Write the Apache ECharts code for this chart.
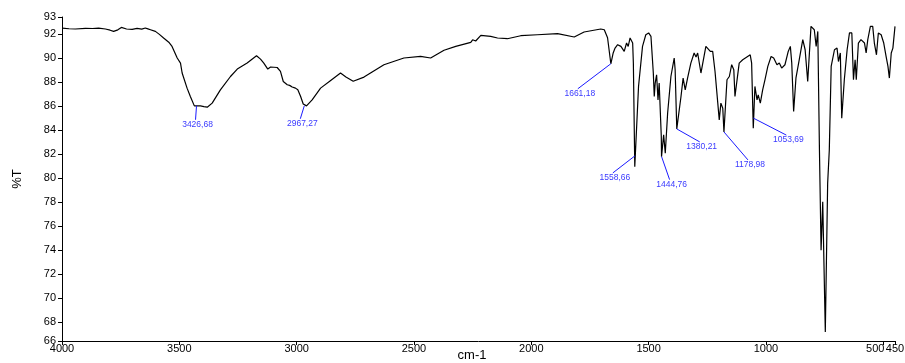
<!DOCTYPE html>
<html>
<head>
<meta charset="utf-8">
<script src="https://cdn.jsdelivr.net/npm/echarts@6/dist/echarts.min.js"></script>
<style>html,body{margin:0;padding:0;background:#fff}#c{width:905px;height:363px}</style>
</head>
<body>
<div id="c"></div>
<script>
// Wavenumbers (cm-1) and transmittance (%T)
const wavenumbers = [3999,3970,3943,3900,3870,3844,3815,3795,3780,3762,3747,3725,3701,3680,3660,3645,3634,3623,3602,3585,3567,3545,3531,3509,3495,3488,3467,3453,3436,3427,3410,3395,3381,3360,3325,3282,3253,3211,3171,3154,3140,3123,3111,3083,3069,3057,3040,3030,3019,3005,2995,2983,2972,2967,2958,2934,2898,2855,2813,2790,2759,2713,2628,2543,2472,2429,2372,2322,2258,2250,2244,2237,2230,2215,2173,2144,2102,2045,1974,1888,1817,1775,1704,1689,1675,1661,1651,1643,1632,1618,1604,1594,1587,1579,1568,1565,1559,1543,1526,1512,1500,1490,1480,1476,1472,1466,1460,1455,1446,1445,1436,1429,1419,1405,1391,1387,1380,1362,1353,1344,1334,1320,1306,1298,1291,1277,1256,1248,1237,1227,1217,1209,1199,1192,1184,1179,1166,1156,1146,1137,1132,1123,1114,1099,1078,1067,1061,1054,1047,1038,1033,1024,1014,1004,992,978,967,953,943,933,919,905,896,890,882,872,858,843,833,822,808,794,786,779,772,765,758,747,737,730,722,708,697,691,683,677,666,654,644,634,627,620,615,606,595,580,573,566,555,545,538,529,521,509,498,488,480,474,466,459,450];
const transmittance = [92.53,92.47,92.45,92.50,92.49,92.53,92.45,92.35,92.25,92.38,92.58,92.45,92.42,92.50,92.44,92.53,92.46,92.39,92.25,92.0,91.70,91.35,91.0,90.03,89.61,88.78,87.52,86.82,86.04,86.05,86.04,85.98,85.93,86.27,87.38,88.49,89.11,89.61,90.22,89.94,89.61,89.11,89.28,89.24,88.91,88.07,87.80,87.75,87.61,87.52,87.38,86.82,86.20,86.05,86.04,86.54,87.52,88.16,88.78,88.45,88.09,88.44,89.47,90.03,90.16,90.03,90.68,91.0,91.33,91.55,91.70,91.45,91.50,91.92,91.83,91.70,91.64,91.89,91.97,92.06,91.78,92.2,92.45,92.39,91.72,89.55,90.45,90.86,91.14,91.0,90.58,91.28,91.0,91.70,91.28,89.6,80.97,87.66,91.0,91.97,92.12,91.83,88.78,86.82,87.94,88.63,86.54,87.94,83.48,81.81,83.62,82.09,85.43,88.49,90.03,89.05,84.12,86.82,88.36,87.38,88.36,89.61,90.45,90.11,90.45,88.78,91.0,91.14,90.58,90.58,88.91,89.05,84.87,86.27,85.85,83.87,88.22,88.49,89.47,89.05,86.82,88.22,89.61,89.89,90.16,90.30,89.61,84.18,87.66,86.54,86.96,86.27,87.38,88.22,89.33,90.16,90.03,89.47,89.61,89.19,89.47,90.58,91.0,89.61,85.57,88.38,89.89,91.56,90.72,88.07,92.67,92.39,91.0,92.25,82.37,74.01,78.05,67.19,79.59,82.37,89.33,90.72,90.86,89.74,90.45,85.02,88.22,90.72,92.12,92.12,88.22,89.89,88.22,91.28,91.56,91.28,90.45,91.56,92.67,92.67,91.28,90.30,92.12,91.97,91.28,90.16,89.33,88.36,90.45,90.86,92.67];

// Peak annotations
const peakLabels = ['3426,68','2967,27','1661,18','1558,66','1444,76','1380,21','1178,98','1053,69'];
const peakWn = [3426.68,2967.27,1661.18,1558.66,1444.76,1380.21,1178.98,1053.69];
const peakT = [86.05,86.05,89.55,81.87,81.81,84.12,83.87,85.02];

// Axis tick labels
const xTicks = [4000,3500,3000,2500,2000,1500,1000,500,450];
const yTicks = [66.44,68,70,72,74,76,78,80,82,84,86,88,90,92,93.45];

// leader line offsets in pixels (layout)
const leaderOffsets = [[-1,14],[-4,13],[-33,25],[-22,17],[8,23],[23,13],[24,28],[33,17]];

const spectrum = wavenumbers.map((w, i) => [w, transmittance[i]]);
const peaks = peakWn.map((w, i) => [w, peakT[i], i]);

const FONT = "'Liberation Sans', Arial, sans-serif";
const chart = echarts.init(document.getElementById('c'), null, {renderer: 'canvas'});
chart.setOption({
  animation: false,
  backgroundColor: '#fff',
  grid: {left: 62, right: 10, top: 17, bottom: 22, containLabel: false, outerBoundsMode: 'none'},
  xAxis: {
    type: 'value', inverse: true, min: 450, max: 4000,
    name: 'cm-1', nameLocation: 'middle', nameGap: 8, nameMoveOverlap: false,
    nameTextStyle: {fontFamily: FONT, fontSize: 13, color: '#000', padding: [0, 13, 0, 0], verticalAlign: 'top'},
    axisLine: {lineStyle: {color: '#000', width: 1}},
    axisTick: {show: true, length: 4, lineStyle: {color: '#000'}, customValues: xTicks},
    axisLabel: {
      customValues: xTicks, margin: 2, fontFamily: FONT, fontSize: 11, color: '#000',
      formatter: v => v === 500 ? '{s|500}' : String(v),
      rich: {s: {fontFamily: FONT, fontSize: 11, color: '#000', padding: [0, 16, 0, 0]}}
    },
    splitLine: {show: false}
  },
  yAxis: {
    type: 'value', min: 66.44, max: 93.45,
    name: '%T', nameLocation: 'middle', nameGap: 38, nameRotate: 90, nameMoveOverlap: false,
    nameTextStyle: {fontFamily: FONT, fontSize: 13, color: '#000'},
    axisLine: {show: true, lineStyle: {color: '#000', width: 1}},
    axisTick: {show: true, length: 4, lineStyle: {color: '#000'}, customValues: yTicks},
    axisLabel: {customValues: yTicks, margin: 6, fontFamily: FONT, fontSize: 11, color: '#000',
      formatter: v => String(Math.round(v))},
    splitLine: {show: false}
  },
  series: [
    {
      type: 'line', data: spectrum, showSymbol: false, symbol: 'none',
      lineStyle: {color: '#000', width: 1.2}, sampling: null, z: 2
    },
    {
      type: 'custom', data: peaks, encode: {x: 0, y: 1}, clip: false, z: 3,
      renderItem: (params, api) => {
        const i = api.value(2);
        const p = api.coord([api.value(0), api.value(1)]);
        const o = leaderOffsets[i];
        const e = [p[0] + o[0], p[1] + o[1]];
        return {
          type: 'group',
          children: [
            {type: 'line', shape: {x1: p[0], y1: p[1], x2: e[0], y2: e[1]},
              style: {stroke: '#1a1aff', lineWidth: 1}},
            {type: 'text', x: e[0] + 2, y: e[1] + 5,
              style: {text: peakLabels[i], fill: '#3a3aff', fontSize: 8.5, fontFamily: FONT,
                align: 'center', verticalAlign: 'middle'}}
          ]
        };
      }
    }
  ]
});
</script>
</body>
</html>
